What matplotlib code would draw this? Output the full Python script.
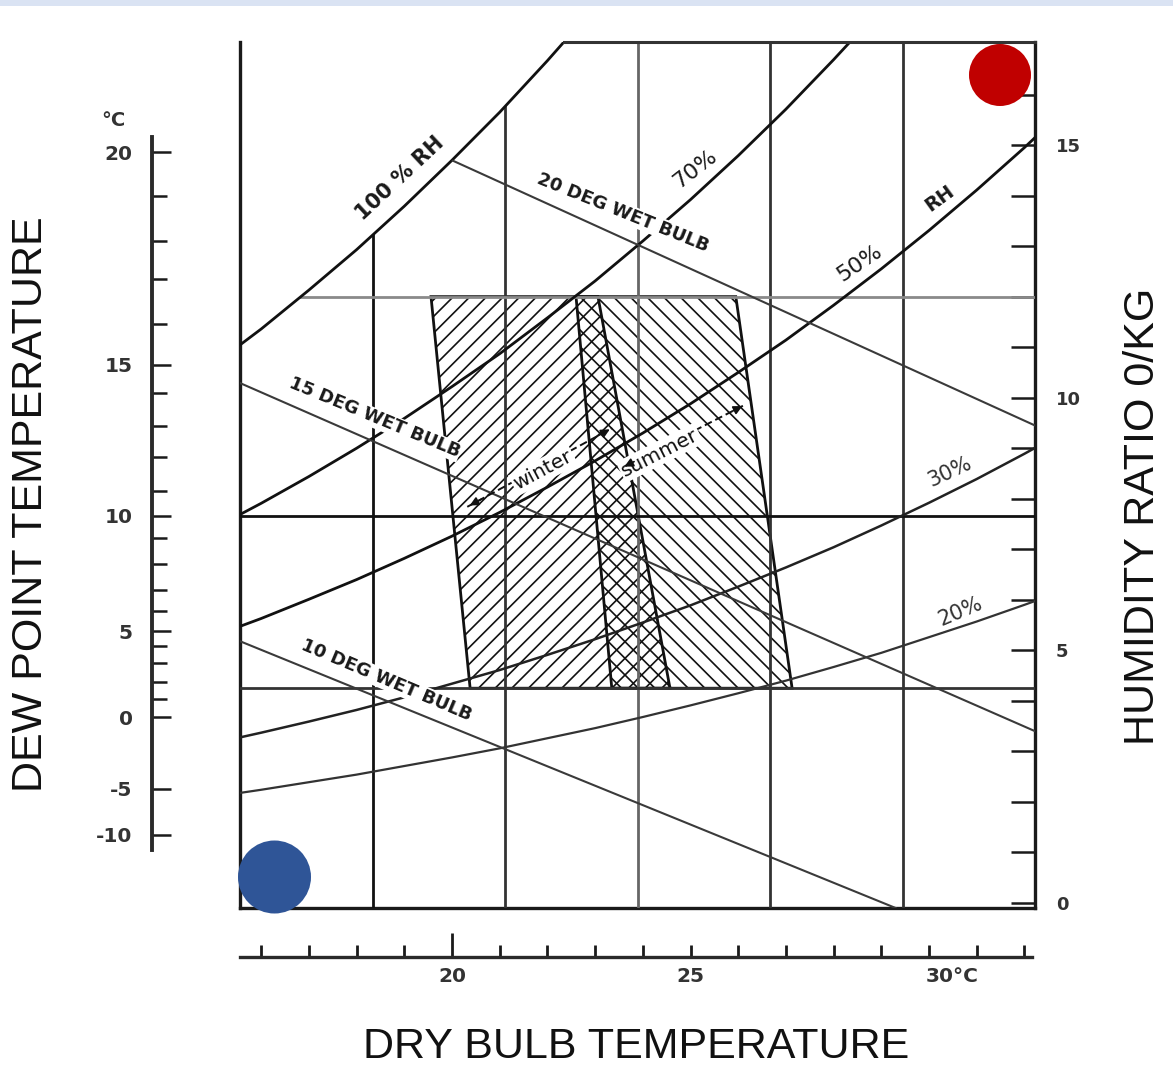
import numpy as np
import matplotlib
matplotlib.use("Agg")
import matplotlib.pyplot as plt
from matplotlib.patches import Polygon, Circle, Rectangle

# ---------------- data ----------------
t_curve = [15, 16, 17, 18, 19, 20, 21, 22, 23, 24, 25, 26, 27, 28, 29, 30, 31, 32, 33]
rh100 = [10.65, 11.36, 12.13, 12.93, 13.79, 14.70, 15.65, 16.67, 17.74]
rh70 = [7.41, 7.91, 8.44, 9.00, 9.59, 10.22, 10.87, 11.58, 12.31, 13.10, 13.92, 14.79, 15.71, 16.69, 17.71]
rh50 = [5.28, 5.63, 6.01, 6.40, 6.82, 7.26, 7.73, 8.23, 8.75, 9.30, 9.88, 10.50, 11.14, 11.83, 12.55, 13.31, 14.11, 14.95, 15.84]
rh30 = [3.16, 3.37, 3.59, 3.82, 4.07, 4.34, 4.61, 4.91, 5.22, 5.55, 5.89, 6.26, 6.64, 7.04, 7.47, 7.92, 8.39, 8.89, 9.41]
rh20 = [2.10, 2.24, 2.39, 2.54, 2.71, 2.88, 3.06, 3.26, 3.46, 3.68, 3.91, 4.15, 4.40, 4.67, 4.95, 5.26, 5.57, 5.90, 6.24]

wb20_t = [19.95, 32.222]
wb20_w = [14.72, 9.45]
wb15_t = [15.556, 32.222]
wb15_w = [10.29, 3.40]
wb10_t = [15.556, 29.3]
wb10_w = [5.18, -0.1]

winter_t = [19.56, 23.06, 24.57, 20.38]
winter_w = [12.0, 12.0, 4.25, 4.25]
summer_t = [22.60, 25.95, 27.13, 23.35]
summer_w = [12.0, 12.0, 4.25, 4.25]

winter_arrow_t = [20.32, 23.36]
winter_arrow_w = [7.84, 9.40]
summer_arrow_t = [23.56, 26.14]
summer_arrow_w = [8.61, 9.86]

grid_f = [65, 70, 75, 80, 85]          # vertical grid lines, deg F
hline_w = [12.0, 7.66, 4.25]           # horizontal lines, g/kg

hr_ticks = list(range(0, 17))
hr_labeled = [0, 5, 10, 15]

dp_labels = ["20", "15", "10", "5", "0", "-5", "-10"]
dp_major_w = [14.86, 10.65, 7.66, 5.38, 3.68, 2.26, 1.35]
dp_minor_w = [14.00, 13.10, 12.35, 11.46, 10.09, 9.44, 8.83, 8.16,
              7.22, 6.71, 6.19, 5.78, 5.09, 4.75, 4.37, 4.04]

db_ticks = list(range(16, 33))
db_label_vals = [20, 25, 30]
db_label_txt = ["20", "25", "30°C"]

# ---------------- figure ----------------
W_PX, H_PX = 1173, 1066
fig = plt.figure(figsize=(W_PX / 100, H_PX / 100), dpi=100)
fig.patch.set_facecolor("white")
plt.rcParams["hatch.linewidth"] = 1.2

T0, T1 = (60 - 32) / 1.8, (90 - 32) / 1.8
W0, W1 = -0.1, 17.04

def fx(px):
    return px / W_PX

def fy(py):
    return 1 - py / H_PX

ax_rect = [fx(240), fy(908), 795 / W_PX, 866 / H_PX]
ax = fig.add_axes(ax_rect)
ax.set_xlim(T0, T1)
ax.set_ylim(W0, W1)
ax.patch.set_alpha(0)

# clip region: inside frame and below saturation curve
tc = np.array(t_curve[:len(rh100)], dtype=float)
w100 = np.array(rh100)
w_left = np.interp(T0, tc, w100)
t_top = np.interp(W1, w100, tc)
verts = [(T0, W0), (T0, w_left)]
verts += [(t, w) for t, w in zip(tc, w100) if T0 < t < t_top]
verts += [(t_top, W1), (T1, W1), (T1, W0)]
clip = Polygon(verts, closed=True, transform=ax.transData, facecolor="none", edgecolor="none")

def cplot(x, y, **kw):
    ln, = ax.plot(x, y, **kw)
    ln.set_clip_path(clip)
    return ln

# zones
winter = Polygon(list(zip(winter_t, winter_w)), closed=True, facecolor="none",
                 edgecolor="#111111", lw=2.0, hatch="//", zorder=2)
summer = Polygon(list(zip(summer_t, summer_w)), closed=True, facecolor="none",
                 edgecolor="#111111", lw=2.0, hatch="\\\\", zorder=2)
ax.add_patch(winter)
ax.add_patch(summer)

# grid
vcols = ["#111111", "#333333", "#666666", "#333333", "#333333"]
for f, c in zip(grid_f, vcols):
    t = (f - 32) / 1.8
    cplot([t, t], [W0, W1], color=c, lw=2.0, zorder=3)
hcols = ["#8a8a8a", "#111111", "#333333"]
for w, c in zip(hline_w, hcols):
    cplot([T0, T1], [w, w], color=c, lw=2.0, zorder=3)

# RH curves
ln100, = ax.plot(tc, w100, color="#111111", lw=2.0, zorder=4)
ln100.set_clip_path(Rectangle((T0, W0), T1 - T0, W1 - W0, transform=ax.transData))
cplot(t_curve[:len(rh70)], rh70, color="#111111", lw=2.0, zorder=4)
cplot(t_curve, rh50, color="#111111", lw=2.0, zorder=4)
cplot(t_curve, rh30, color="#222222", lw=1.8, zorder=4)
cplot(t_curve, rh20, color="#333333", lw=1.6, zorder=4)

# wet bulb lines
for tt, ww in [(wb20_t, wb20_w), (wb15_t, wb15_w), (wb10_t, wb10_w)]:
    cplot(tt, ww, color="#3a3a3a", lw=1.5, zorder=4)

# frame
for s in ["left", "right", "bottom"]:
    ax.spines[s].set_linewidth(2.4)
    ax.spines[s].set_color("#1a1a1a")
ax.spines["top"].set_visible(False)
ax.plot([t_top, T1], [W1, W1], color="#333333", lw=2.2, clip_on=False, zorder=5)

# right humidity-ratio axis
ax.yaxis.tick_right()
ax.set_yticks(hr_ticks)
ax.set_yticklabels([str(v) if v in hr_labeled else "" for v in hr_ticks],
                   fontsize=13, color="#333333", fontweight="bold")
ax.tick_params(axis="y", direction="in", length=17, width=1.8, pad=15, colors="#1a1a1a",
               labelcolor="#333333")
ax.set_xticks([])

# labels on chart
bb = dict(facecolor="white", edgecolor="none", pad=0.6)
lab_kw = dict(ha="center", va="center", rotation_mode="anchor", zorder=6)
ax.text(18.91, 14.35, "100 % RH", rotation=43, fontsize=15, fontweight="bold", color="#1a1a1a", bbox=bb, **lab_kw)
ax.text(23.59, 13.66, "20 DEG WET BULB", rotation=-22, fontsize=13, fontweight="bold", color="#1a1a1a", bbox=bb, **lab_kw)
ax.text(25.09, 14.53, "70%", rotation=38, fontsize=16, color="#1a1a1a", bbox=bb, **lab_kw)
ax.text(28.55, 12.67, "50%", rotation=34, fontsize=16, color="#1a1a1a", bbox=bb, **lab_kw)
ax.text(30.23, 13.95, "RH", rotation=36, fontsize=14, fontweight="bold", color="#1a1a1a", bbox=bb, **lab_kw)
ax.text(18.37, 9.60, "15 DEG WET BULB", rotation=-22.5, fontsize=13, fontweight="bold", color="#1a1a1a", bbox=bb, **lab_kw)
ax.text(30.44, 8.53, "30%", rotation=25, fontsize=15, color="#333333", bbox=bb, **lab_kw)
ax.text(30.65, 5.76, "20%", rotation=23, fontsize=15, color="#333333", bbox=bb, **lab_kw)
ax.text(18.62, 4.41, "10 DEG WET BULB", rotation=-23, fontsize=13, fontweight="bold", color="#1a1a1a", bbox=bb, **lab_kw)

# winter / summer arrows
for tt, ww in [(winter_arrow_t, winter_arrow_w), (summer_arrow_t, summer_arrow_w)]:
    ax.plot(tt, ww, color="#111111", lw=1.4, ls=(0, (4, 2)), zorder=6)
    dt, dw = tt[1] - tt[0], ww[1] - ww[0]
    for k in (0, 1):
        sgn = 1 if k == 0 else -1
        ax.annotate("", xy=(tt[k], ww[k]), xytext=(tt[k] + sgn * 0.12 * dt, ww[k] + sgn * 0.12 * dw),
                    arrowprops=dict(arrowstyle="-|>", color="#111111", lw=1.2, mutation_scale=13),
                    zorder=7)
ax.text(21.91, 8.57, "winter", rotation=28, fontsize=14.5, color="#111111",
        bbox=dict(facecolor="white", edgecolor="none", pad=1.5), **lab_kw)
ax.text(24.36, 8.91, "summer", rotation=27, fontsize=14.5, color="#111111",
        bbox=dict(facecolor="white", edgecolor="none", pad=1.5), **lab_kw)

# left dew point scale
axd = fig.add_axes([fx(152), fy(908), 0.02, 866 / H_PX])
axd.set_ylim(W0, W1)
axd.patch.set_visible(False)
for s in ["top", "right", "bottom"]:
    axd.spines[s].set_visible(False)
axd.spines["left"].set_linewidth(2.8)
axd.spines["left"].set_color("#2a2a2a")
axd.spines["left"].set_bounds((903 - 850) / 50.53, (903 - 137) / 50.53)
axd.set_xticks([])
axd.set_yticks(dp_major_w)
axd.set_yticklabels(dp_labels, fontsize=14.5, fontweight="bold", color="#333333")
axd.set_yticks(dp_minor_w, minor=True)
axd.tick_params(axis="y", which="major", direction="in", length=14, width=1.8, pad=14, colors="#1a1a1a",
                labelcolor="#333333")
axd.tick_params(axis="y", which="minor", direction="in", length=11, width=1.8, colors="#1a1a1a")
fig.text(fx(113), fy(121), "°C", ha="center", va="center", fontsize=14, fontweight="bold", color="#333333")

# bottom dry bulb scale
axb = fig.add_axes([fx(240), fy(957), 795 / W_PX, 0.03])
axb.set_xlim(T0, T1)
axb.patch.set_visible(False)
for s in ["top", "right", "left"]:
    axb.spines[s].set_visible(False)
axb.spines["bottom"].set_linewidth(2.4)
axb.spines["bottom"].set_color("#2a2a2a")
axb.spines["bottom"].set_bounds(T0, 32.15)
axb.set_yticks([])
axb.set_xticks(db_ticks)
axb.set_xticklabels([""] * len(db_ticks))
axb.tick_params(axis="x", direction="in", length=9, width=2.0, colors="#1a1a1a")
for tk, v in zip(axb.xaxis.get_major_ticks(), db_ticks):
    if v == 20:
        tk.tick1line.set_markersize(17)
offs = {20: 0.0, 25: 0.0, 30: 0.48}
for v, s in zip(db_label_vals, db_label_txt):
    axb.annotate(s, xy=(v + offs[v], 0), xycoords=("data", "axes fraction"),
                 xytext=(0, -7), textcoords="offset points", ha="center", va="top",
                 fontsize=14.5, fontweight="bold", color="#333333")

# axis titles
title_kw = dict(fontsize=31, family=["Liberation Sans", "DejaVu Sans"], color="#111111",
                ha="center", va="center")
fig.text(fx(31), fy(504), "DEW POINT TEMPERATURE", rotation=90, **title_kw)
fig.text(fx(636), fy(1047), "DRY BULB TEMPERATURE", **title_kw)
fig.text(fx(1143), fy(516), "HUMIDITY RATIO 0/KG", rotation=90, **title_kw)

# decorations overlay
ov = fig.add_axes([0, 0, 1, 1], zorder=20)
ov.set_xlim(0, W_PX)
ov.set_ylim(H_PX, 0)
ov.axis("off")
ov.patch.set_alpha(0)
ov.add_patch(Rectangle((0, 0), W_PX, 5.5, color="#dae3f3", lw=0))
ov.add_patch(Circle((1000, 75), 31, color="#c00000", lw=0))
ov.add_patch(Circle((274.5, 877), 36.5, color="#2f5597", lw=0))

fig.savefig("out.png", dpi=100)
